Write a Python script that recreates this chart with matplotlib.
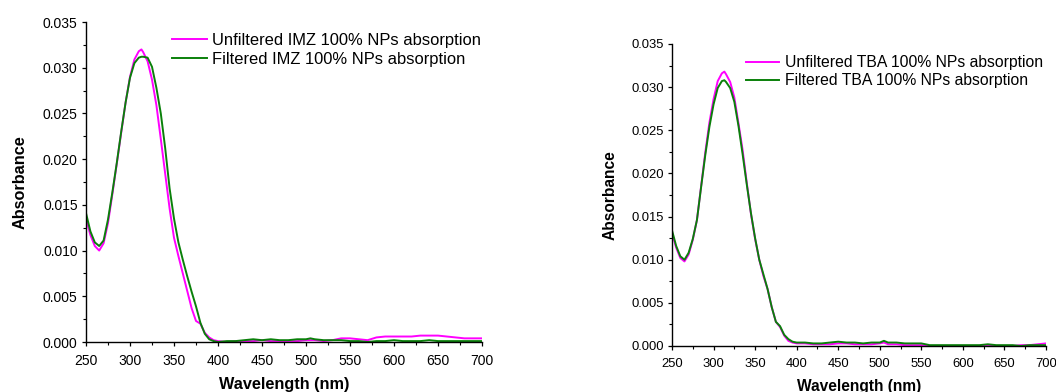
import matplotlib.pyplot as plt
from matplotlib.ticker import MultipleLocator, FormatStrFormatter

plt.rcParams["font.family"] = ["Liberation Sans", "DejaVu Sans"]

# shared wavelength grid (nm)
wavelength = [250, 255, 260, 265, 270, 275, 280, 285, 290, 295, 300, 305, 310, 313,
              315, 320, 325, 330, 335, 340, 345, 350, 355, 360, 365, 370, 375, 380,
              385, 390, 395, 400,
              410, 420, 430, 440, 450, 460, 470, 480, 490, 500, 505, 510, 520, 530,
              540, 550, 560, 570, 580, 590, 600, 610, 620, 630, 640, 650, 660, 670,
              680, 690, 700]

# left panel: IMZ
imz_unfiltered = [0.0135, 0.0117, 0.0105, 0.0100, 0.0108, 0.0130, 0.0162, 0.0195, 0.0229,
                  0.0262, 0.0290, 0.0309, 0.0318, 0.0320, 0.0317, 0.0307, 0.0287, 0.0259,
                  0.0222, 0.0184, 0.0146, 0.0114, 0.0094, 0.0075, 0.0056, 0.0037, 0.0023,
                  0.0020, 0.0010, 0.0005, 0.0002, 0.0001,
                  0.0000, 0.0001, 0.0001, 0.0001, 0.0002, 0.0001, 0.0001, 0.0001, 0.0001,
                  0.0002, 0.0002, 0.0002, 0.0001, 0.0002, 0.0004, 0.0004, 0.0003, 0.0002,
                  0.0005, 0.0006, 0.0006, 0.0006, 0.0006, 0.0007, 0.0007, 0.0007, 0.0006,
                  0.0005, 0.0004, 0.0004, 0.0004]
imz_filtered = [0.0141, 0.0121, 0.0109, 0.0105, 0.0111, 0.0134, 0.0164, 0.0196, 0.0230,
                0.0262, 0.0289, 0.0305, 0.0311, 0.0312, 0.0312, 0.0311, 0.0301, 0.0278,
                0.0250, 0.0212, 0.0168, 0.0135, 0.0109, 0.0090, 0.0072, 0.0055, 0.0039,
                0.0021, 0.0009, 0.0003, 0.0001, 0.0000,
                0.0001, 0.0001, 0.0002, 0.0003, 0.0002, 0.0003, 0.0002, 0.0002, 0.0003,
                0.0003, 0.0004, 0.0003, 0.0002, 0.0002, 0.0002, 0.0001, 0.0001, 0.0000,
                0.0001, 0.0001, 0.0002, 0.0001, 0.0001, 0.0001, 0.0002, 0.0001, 0.0001,
                0.0001, 0.0001, 0.0001, 0.0001]

# right panel: TBA
tba_unfiltered = [0.0131, 0.0114, 0.0102, 0.0098, 0.0106, 0.0123, 0.0146, 0.0185, 0.0224,
                  0.0259, 0.0286, 0.0307, 0.0316, 0.0318, 0.0315, 0.0306, 0.0288, 0.0258,
                  0.0227, 0.0189, 0.0153, 0.0124, 0.0100, 0.0081, 0.0066, 0.0045, 0.0028,
                  0.0022, 0.0012, 0.0006, 0.0004, 0.0003,
                  0.0003, 0.0002, 0.0002, 0.0002, 0.0003, 0.0003, 0.0002, 0.0002, 0.0002,
                  0.0003, 0.0004, 0.0002, 0.0002, 0.0001, 0.0001, 0.0001, 0.0000, 0.0000,
                  0.0000, 0.0000, 0.0000, 0.0000, 0.0000, 0.0000, 0.0000, 0.0000, 0.0000,
                  0.0001, 0.0001, 0.0002, 0.0003]
tba_filtered = [0.0134, 0.0116, 0.0104, 0.0100, 0.0108, 0.0124, 0.0146, 0.0184, 0.0221,
                0.0254, 0.0280, 0.0299, 0.0307, 0.0308, 0.0306, 0.0299, 0.0283, 0.0255,
                0.0222, 0.0187, 0.0154, 0.0125, 0.0100, 0.0083, 0.0066, 0.0045, 0.0028,
                0.0023, 0.0013, 0.0008, 0.0005, 0.0004,
                0.0004, 0.0003, 0.0003, 0.0004, 0.0005, 0.0004, 0.0004, 0.0003, 0.0004,
                0.0004, 0.0006, 0.0004, 0.0004, 0.0003, 0.0003, 0.0003, 0.0001, 0.0001,
                0.0001, 0.0001, 0.0001, 0.0001, 0.0001, 0.0002, 0.0001, 0.0001, 0.0001,
                0.0000, 0.0001, 0.0001, 0.0001]

MAGENTA = "#ff00ff"
GREEN = "#0a800a"


def panel(ax, unf, filt, name, tick_fs, label_fs, leg_fs, leg_anchor, leg_space,
          xlab_y, ylab_x):
    ax.plot(wavelength, unf, color=MAGENTA, lw=1.4,
            label=f"Unfiltered {name} 100% NPs absorption")
    ax.plot(wavelength, filt, color=GREEN, lw=1.4,
            label=f"Filtered {name} 100% NPs absorption")
    ax.set_xlim(250, 700)
    ax.set_ylim(0, 0.035)
    ax.xaxis.set_major_locator(MultipleLocator(50))
    ax.xaxis.set_minor_locator(MultipleLocator(25))
    ax.yaxis.set_major_locator(MultipleLocator(0.005))
    ax.yaxis.set_minor_locator(MultipleLocator(0.0025))
    ax.yaxis.set_major_formatter(FormatStrFormatter("%.3f"))
    for s in ["top", "right"]:
        ax.spines[s].set_visible(False)
    for s in ["left", "bottom"]:
        ax.spines[s].set_linewidth(1.0)
    ax.tick_params(which="major", direction="out", length=3, width=0.9,
                   labelsize=tick_fs)
    ax.tick_params(which="minor", direction="out", length=2, width=0.8)
    ax.tick_params(axis="y", which="major", pad=3)
    ax.tick_params(axis="x", which="major", pad=5.5)
    ax.set_xlabel("Wavelength (nm)", fontsize=label_fs, fontweight="bold")
    ax.set_ylabel("Absorbance", fontsize=label_fs, fontweight="bold")
    ax.xaxis.set_label_coords(0.5, xlab_y)
    ax.yaxis.set_label_coords(ylab_x, 0.5)
    ax.legend(loc="upper left", bbox_to_anchor=leg_anchor, frameon=False,
              fontsize=leg_fs, borderpad=0, borderaxespad=0, handlelength=2.1,
              handletextpad=0.35, labelspacing=leg_space)


fig = plt.figure(figsize=(10.56, 3.92), dpi=100)
ax1 = fig.add_axes([86 / 1056, 50 / 392, 396 / 1056, 320 / 392])
ax2 = fig.add_axes([672 / 1056, 46 / 392, 374 / 1056, 302 / 392])

panel(ax1, imz_unfiltered, imz_filtered, "IMZ", 10, 11.7, 11.9,
      (0.217, 0.967), 0.25, -0.108, -0.147)
panel(ax2, tba_unfiltered, tba_filtered, "TBA", 9.4, 11.2, 11.3,
      (0.198, 0.963), 0.18, -0.110, -0.145)

fig.savefig("out.png", dpi=100)
